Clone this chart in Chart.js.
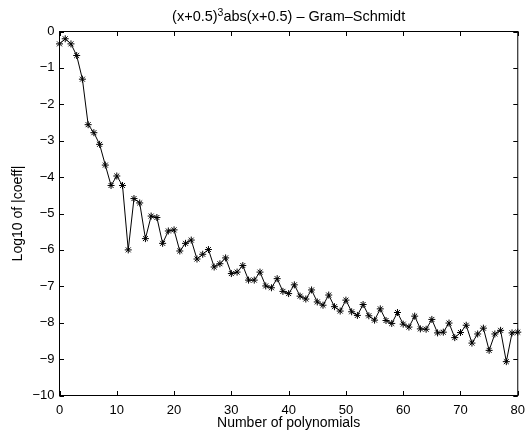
<!DOCTYPE html>
<html lang="en">
<head>
<meta charset="UTF-8">
<title>Gram-Schmidt coefficients</title>
<script src="https://cdn.jsdelivr.net/npm/chart.js"></script>
<style>
  html, body { margin: 0; padding: 0; background: #fff; }
  #wrap { width: 532px; height: 434px; }
</style>
</head>
<body>
<div id="wrap"><canvas id="coeffChart" width="532" height="434"></canvas></div>
<script>
// number of polynomials
const nPoly = [
  0, 1, 2, 3, 4, 5, 6, 7, 8, 9, 10, 11, 12, 13, 14, 15, 16, 17, 18, 19, 20,
  21, 22, 23, 24, 25, 26, 27, 28, 29, 30, 31, 32, 33, 34, 35, 36, 37, 38, 39, 40,
  41, 42, 43, 44, 45, 46, 47, 48, 49, 50, 51, 52, 53, 54, 55, 56, 57, 58, 59, 60,
  61, 62, 63, 64, 65, 66, 67, 68, 69, 70, 71, 72, 73, 74, 75, 76, 77, 78, 79, 80
];
// log10 |coeff|
const logCoeff = [
  -0.34, -0.20, -0.34, -0.66, -1.31, -2.56, -2.78, -3.10, -3.67, -4.23, -3.97,
  -4.23, -6.00, -4.59, -4.71, -5.69, -5.07, -5.11, -5.82, -5.48, -5.45,
  -6.03, -5.82, -5.73, -6.25, -6.12, -5.99, -6.47, -6.38, -6.22, -6.65,
  -6.61, -6.43, -6.83, -6.83, -6.61, -6.99, -7.04, -6.79, -7.14, -7.20,
  -6.96, -7.27, -7.35, -7.10, -7.43, -7.52, -7.24, -7.56, -7.68, -7.38,
  -7.70, -7.80, -7.50, -7.81, -7.93, -7.62, -7.94, -8.02, -7.72, -8.04,
  -8.12, -7.82, -8.17, -8.18, -7.91, -8.28, -8.26, -8.01, -8.41, -8.27,
  -8.07, -8.56, -8.31, -8.15, -8.76, -8.31, -8.21, -9.07, -8.28, -8.26
];
const xTicks = [0, 10, 20, 30, 40, 50, 60, 70, 80];
const yTicks = [0, -1, -2, -3, -4, -5, -6, -7, -8, -9, -10];

const FONT = '"Liberation Sans", Arial, Helvetica, sans-serif';
Chart.defaults.font.family = FONT;
Chart.defaults.color = '#000';

// box, inward ticks and the title with its superscript
const matlabAxes = {
  id: 'matlabAxes',
  beforeDatasetsDraw(chart) {
    const { ctx, chartArea: a, scales: { x, y } } = chart;
    const len = 4.5;
    ctx.save();
    ctx.strokeStyle = '#000';
    ctx.lineWidth = 1;
    ctx.strokeRect(a.left, a.top, a.right - a.left, a.bottom - a.top);
    ctx.beginPath();
    x.ticks.forEach(t => {
      const px = Math.round(x.getPixelForValue(t.value)) + 0.5;
      ctx.moveTo(px, a.bottom); ctx.lineTo(px, a.bottom - len);
      ctx.moveTo(px, a.top); ctx.lineTo(px, a.top + len);
    });
    y.ticks.forEach(t => {
      const py = Math.round(y.getPixelForValue(t.value)) + 0.5;
      ctx.moveTo(a.left, py); ctx.lineTo(a.left + len, py);
      ctx.moveTo(a.right, py); ctx.lineTo(a.right - len, py);
    });
    ctx.stroke();
    ctx.restore();
  },
  afterDraw(chart) {
    const { ctx, chartArea: a } = chart;
    const parts = ['(x+0.5)', '3', 'abs(x+0.5) \u2013 Gram\u2013Schmidt'];
    const big = '14.5px ' + FONT, small = '10.5px ' + FONT;
    ctx.save();
    ctx.fillStyle = '#000';
    ctx.textBaseline = 'alphabetic';
    ctx.textAlign = 'left';
    ctx.font = big; const w0 = ctx.measureText(parts[0]).width;
    const w2 = ctx.measureText(parts[2]).width;
    ctx.font = small; const w1 = ctx.measureText(parts[1]).width;
    let cx = (a.left + a.right) / 2 - (w0 + w1 + w2) / 2;
    const base = 21;
    ctx.font = big; ctx.fillText(parts[0], cx, base); cx += w0;
    ctx.font = small; ctx.fillText(parts[1], cx, base - 5.5); cx += w1;
    ctx.font = big; ctx.fillText(parts[2], cx, base);
    ctx.restore();
  }
};

// tick labels with a real minus sign, as in the figure
const minusLabel = v => String(v).replace('-', '\u2212');

new Chart(document.getElementById('coeffChart'), {
  type: 'line',
  data: {
    datasets: [{
      data: nPoly.map((n, i) => ({ x: n, y: logCoeff[i] })),
      borderColor: '#000',
      borderWidth: 1,
      tension: 0,
      pointStyle: 'star',
      pointRadius: 3.5,
      pointBorderColor: '#000',
      pointBorderWidth: 1,
      pointBackgroundColor: '#000',
      clip: false
    }]
  },
  options: {
    responsive: false,
    animation: false,
    layout: { padding: { top: 31.5, right: 9.5, left: 0, bottom: 0 } },
    plugins: { legend: { display: false }, tooltip: { enabled: false } },
    scales: {
      x: {
        type: 'linear', min: 0, max: 80,
        afterBuildTicks: s => { s.ticks = xTicks.map(v => ({ value: v })); },
        afterFit: s => { s.height = 38.5; },
        grid: { display: false, drawTicks: false },
        border: { display: false },
        ticks: { font: { size: 13 }, padding: 7, maxRotation: 0 },
        title: { display: true, text: 'Number of polynomials', font: { size: 14 }, padding: { top: 0, bottom: 2 } }
      },
      y: {
        type: 'linear', min: -10, max: 0,
        afterBuildTicks: s => { s.ticks = yTicks.map(v => ({ value: v })); },
        afterFit: s => { s.width = 59.5; },
        grid: { display: false, drawTicks: false },
        border: { display: false },
        ticks: { font: { size: 13 }, padding: 5, callback: minusLabel },
        title: { display: true, text: 'Log10 of |coeff|', font: { size: 14 }, padding: { top: 9.5, bottom: 0 } }
      }
    }
  },
  plugins: [matlabAxes]
});
</script>
</body>
</html>
